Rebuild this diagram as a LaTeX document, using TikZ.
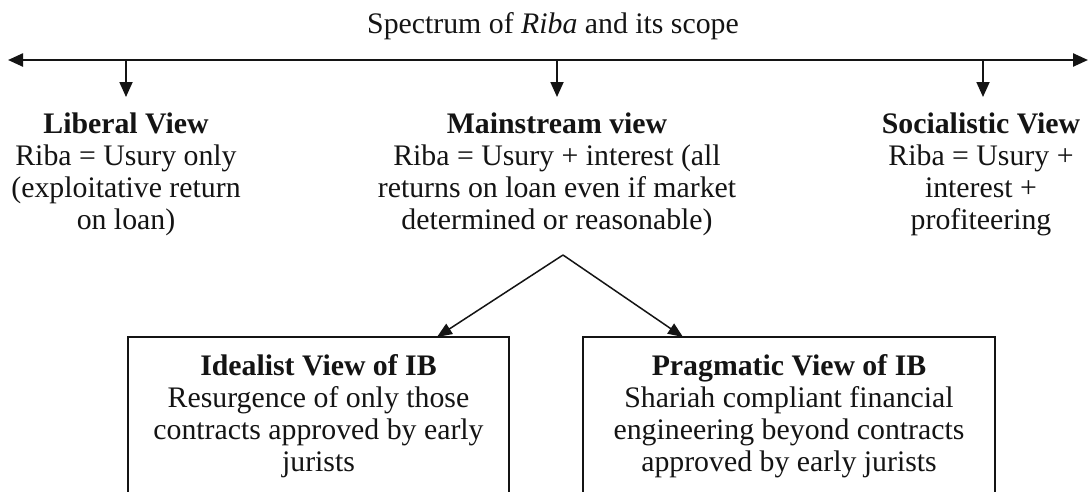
\documentclass[tikz,border=0pt]{standalone}
\usepackage{fontspec}
\setmainfont{Liberation Serif}
\usetikzlibrary{arrows.meta}
\definecolor{ink}{HTML}{141414}
\begin{document}
\begin{tikzpicture}[x=1pt,y=-1pt,
  txt/.style={inner sep=0pt, align=center, text=ink, font=\fontsize{29.8}{32}\selectfont},
  viewbox/.style={txt, draw=ink, line width=1.5pt, minimum width=381pt, minimum height=159pt},
  tip/.style={-{Triangle[length=15pt,width=13pt]}},
  arr/.style={tip, draw=ink, line width=1.8pt},
  varr/.style={-{Triangle[length=15pt,width=12pt]}, draw=ink, line width=1.5pt},
  mainline/.style={{Triangle[length=15pt,width=13pt]}-{Triangle[length=15pt,width=13pt]}, draw=ink, line width=2.4pt}]
\useasboundingbox (0,0) rectangle (1089,491);
\clip (0,0) rectangle (1089,491);
\fill[white] (0,0) rectangle (1089,491);

% title
\node[txt, anchor=base] (title) at (553,33) {Spectrum of \textit{Riba} and its scope};

% spectrum line
\coordinate (sl) at (8,60);
\coordinate (sr) at (1088,60);
\draw[mainline] (sl) -- (sr);

% three views
\node[txt, anchor=north] (lib) at (126,113) {\textbf{Liberal View}\\Riba = Usury only\\(exploitative return\\on loan)};
\node[txt, anchor=north] (main) at (557,113) {\textbf{Mainstream view}\\Riba = Usury + interest (all\\returns on loan even if market\\determined or reasonable)};
\node[txt, anchor=north] (soc) at (981,113) {\textbf{Socialistic View}\\Riba = Usury +\\interest +\\profiteering};

\coordinate (p1) at (126,60);
\coordinate (p2) at (557,60);
\coordinate (p3) at (983,60);
\draw[arr, shorten >=16pt] (p1) -- (p1 |- lib.north);
\draw[arr, shorten >=16pt] (p2) -- (p2 |- main.north);
\draw[arr, shorten >=16pt] (p3) -- (p3 |- soc.north);

% boxes
\node[viewbox] (ideal) at (318.5,416.5) {\textbf{Idealist View of IB}\\Resurgence of only those\\contracts approved by early\\jurists};
\node[viewbox, minimum width=412pt] (prag) at (789,416.5) {\textbf{Pragmatic View of IB}\\Shariah compliant financial\\engineering beyond contracts\\approved by early jurists};

% branching arrows
\coordinate (apex) at (563,255);
\coordinate (t1) at (437,337);
\coordinate (t2) at (683,337);
\draw[varr] (apex) -- (t1);
\draw[varr] (apex) -- (t2);
\end{tikzpicture}
\end{document}
